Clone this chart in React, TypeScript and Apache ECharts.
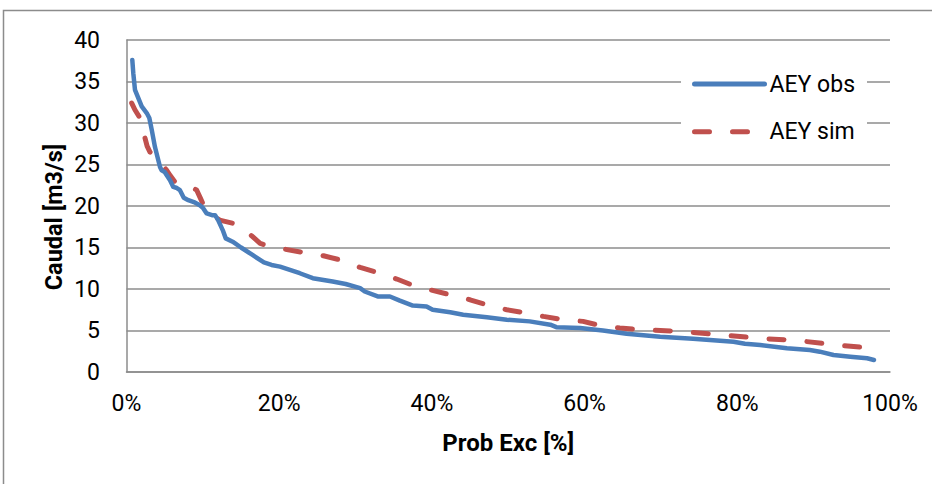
import React, { useEffect, useRef } from "react";
import * as echarts from "echarts";

// Flow duration curves: exceedance probability (%) vs. flow (m3/s)
const probObs = [
  0.76, 0.89, 1.11, 1.55, 1.99, 2.65, 2.99, 3.3, 3.73, 4.39, 4.6, 5.0, 5.7, 6.13, 6.5, 7.0, 7.5, 8.1, 9.0,
  9.6, 10.0, 10.5, 11.2, 11.6, 12.0, 12.6, 13.0, 13.9, 15.0, 16.5, 18.0, 19.0, 20.1, 22.7, 24.4, 27.0,
  28.7, 30.6, 31.2, 32.9, 34.5, 35.8, 37.5, 39.3, 40.1, 42.4, 44.1, 47.2, 49.8, 52.8, 55.5, 56.3, 59.4,
  62.4, 65.5, 69.9, 74.2, 79.5, 81.0, 83.0, 86.5, 89.5, 90.8, 92.6, 94.8, 97.0, 97.9,
];
const flowObs = [
  37.6, 36.0, 34.0, 33.0, 32.0, 31.2, 30.6, 29.2, 27.1, 24.7, 24.3, 24.1, 23.1, 22.3, 22.2, 21.9, 21.0,
  20.7, 20.4, 20.1, 19.8, 19.1, 18.9, 18.9, 18.3, 17.1, 16.1, 15.7, 15.0, 14.1, 13.2, 12.9, 12.7, 11.9,
  11.3, 10.9, 10.6, 10.1, 9.7, 9.1, 9.1, 8.6, 8.0, 7.9, 7.5, 7.2, 6.9, 6.6, 6.3, 6.1, 5.7, 5.4, 5.3, 5.0,
  4.6, 4.25, 4.0, 3.65, 3.4, 3.25, 2.85, 2.65, 2.45, 2.05, 1.85, 1.65, 1.45,
];
const probSim = [
  0.68, 1.1, 1.77, 2.16, 2.42, 2.7, 3.08, 3.73, 4.4, 5.27, 5.7, 6.35, 7.0, 8.3, 9.2, 9.6, 10.1, 10.9, 12.2,
  14.0, 15.3, 16.4, 17.5, 18.8, 20.7, 23.2, 25.8, 28.0, 30.6, 32.8, 35.4, 37.6, 40.2, 42.4, 45.0, 47.2,
  49.8, 52.4, 54.6, 57.2, 59.8, 62.0, 64.6, 67.3, 72.5, 77.7, 83.0, 87.8, 93.0, 97.9,
];
const flowSim = [
  32.4, 31.6, 30.6, 29.8, 28.2, 27.2, 26.5, 26.0, 25.3, 24.3, 23.7, 22.9, 22.8, 22.4, 21.9, 21.1, 20.1,
  19.2, 18.3, 17.9, 17.3, 16.4, 15.5, 15.1, 14.8, 14.4, 14.0, 13.5, 12.6, 12.0, 11.2, 10.4, 9.8, 9.3, 8.7,
  8.1, 7.5, 7.1, 6.7, 6.3, 6.1, 5.6, 5.3, 5.1, 4.9, 4.5, 4.05, 3.8, 3.25, 2.85,
];
const seriesNames = ["AEY obs", "AEY sim"];
const xTitle = "Prob Exc [%]";
const yTitle = "Caudal [m3/s]";

const FONT = "Roboto, 'Noto Sans', sans-serif";
const GRID_GRAY = "#8c8c8c";
const OBS_BLUE = "#4a7ebb";
const SIM_RED = "#c0504d";

export default function App() {
  const ref = useRef<HTMLDivElement>(null);

  useEffect(() => {
    if (!ref.current) return;
    const chart = echarts.init(ref.current, null, { renderer: "svg" });
    const obs = probObs.map((p, i) => [p, flowObs[i]]);
    const sim = probSim.map((p, i) => [p, flowSim[i]]);

    chart.setOption({
      animation: false,
      backgroundColor: "#ffffff",
      grid: { left: 126.5, right: 42, top: 40, bottom: 112, containLabel: false },
      xAxis: {
        type: "value",
        min: 0,
        max: 100,
        interval: 20,
        name: xTitle,
        nameLocation: "middle",
        nameGap: 59,
        nameTextStyle: { fontFamily: FONT, fontSize: 24, fontWeight: "bold", color: "#000" },
        axisLine: { show: true, lineStyle: { color: GRID_GRAY, width: 1.5 } },
        axisTick: { show: false },
        splitLine: { show: false },
        axisLabel: {
          formatter: "{value}%",
          margin: 20,
          fontFamily: FONT,
          fontSize: 23,
          color: "#000",
        },
      },
      yAxis: {
        type: "value",
        min: 0,
        max: 40,
        interval: 5,
        axisLine: { show: true, lineStyle: { color: GRID_GRAY, width: 1.5 } },
        axisTick: { show: false },
        splitLine: { show: true, lineStyle: { color: GRID_GRAY, width: 1.5 } },
        axisLabel: { margin: 26.5, fontFamily: FONT, fontSize: 23, color: "#000" },
      },
      legend: {
        orient: "vertical",
        left: 681,
        top: 61,
        padding: [8, 12, 8, 11],
        backgroundColor: "#ffffff",
        itemWidth: 70,
        itemHeight: 30,
        itemGap: 17.7,
        itemStyle: { opacity: 0 },
        lineStyle: { width: 5, cap: "round" },
        textStyle: { fontFamily: FONT, fontSize: 23, color: "#000", lineHeight: 30 },
        data: seriesNames,
      },
      graphic: [
        {
          type: "rect",
          shape: { x: 3.5, y: 10.5, width: 1200, height: 900 },
          style: { fill: "none", stroke: GRID_GRAY, lineWidth: 1.5 },
          silent: true,
        },
        {
          type: "text",
          x: 54,
          y: 217,
          rotation: Math.PI / 2,
          style: {
            text: yTitle,
            fontFamily: FONT,
            fontSize: 23.5,
            fontWeight: "bold",
            fill: "#000",
            align: "center",
            verticalAlign: "middle",
          },
        },
      ],
      series: [
        {
          name: seriesNames[0],
          type: "line",
          data: obs,
          symbol: "none",
          showSymbol: false,
          z: 3,
          itemStyle: { color: OBS_BLUE },
          lineStyle: { color: OBS_BLUE, width: 4.5, cap: "round", join: "round" },
        },
        {
          name: seriesNames[1],
          type: "line",
          data: sim,
          symbol: "none",
          showSymbol: false,
          z: 2,
          itemStyle: { color: SIM_RED },
          lineStyle: { color: SIM_RED, width: 5, type: [15, 23], cap: "round", join: "round" },
        },
      ],
    });

    return () => chart.dispose();
  }, []);

  return (
    <div
      ref={ref}
      style={{ position: "fixed", left: 0, top: 0, width: 932, height: 484 }}
    />
  );
}
